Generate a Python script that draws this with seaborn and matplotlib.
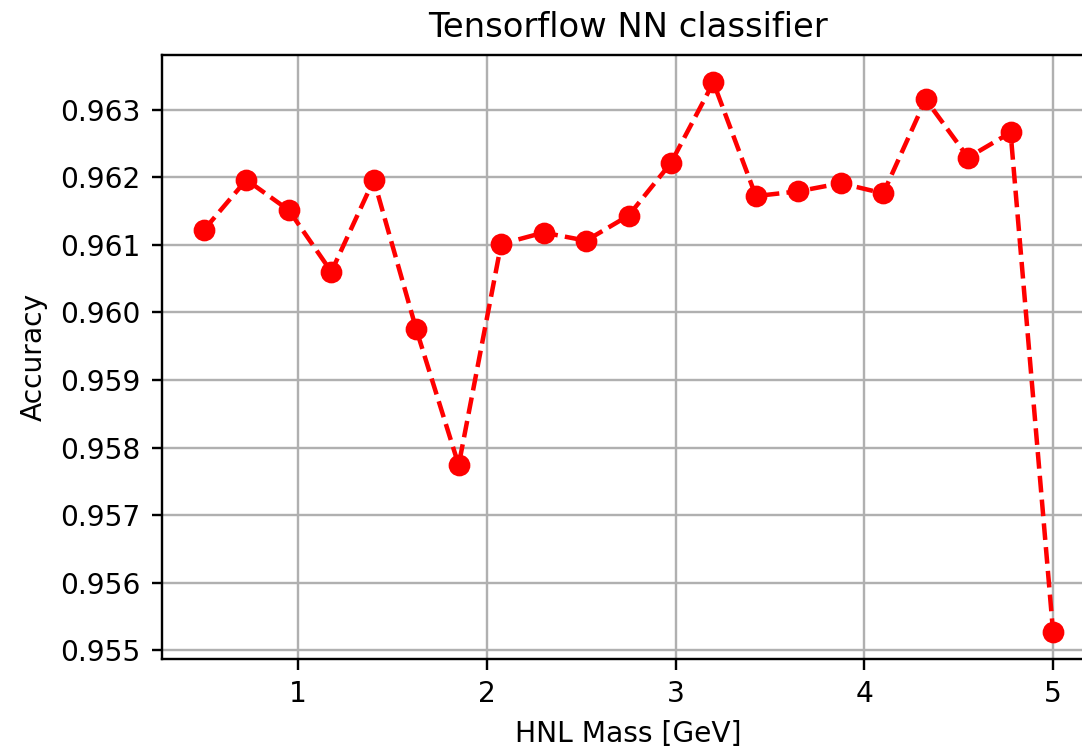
import matplotlib
matplotlib.use("Agg")
import matplotlib.pyplot as plt
import seaborn as sns
import pandas as pd

# HNL mass points (GeV) and classifier accuracy at each
mass = [0.5, 0.725, 0.95, 1.175, 1.4, 1.625, 1.85, 2.075, 2.3, 2.525, 2.75,
        2.975, 3.2, 3.425, 3.65, 3.875, 4.1, 4.325, 4.55, 4.775, 5.0]
accuracy = [0.96122, 0.96196, 0.96151, 0.96060, 0.96196, 0.95975, 0.95774,
            0.96101, 0.96118, 0.96106, 0.96143, 0.96221, 0.96340, 0.96172,
            0.96179, 0.96191, 0.96176, 0.96315, 0.96229, 0.96266, 0.95528]

df = pd.DataFrame({"mass": mass, "accuracy": accuracy})

plt.rcParams.update(plt.rcParamsDefault)
plt.rcParams["font.family"] = ["DejaVu Sans"]
plt.rcParams["font.size"] = 9.4

dpi = 216
fig = plt.figure(figsize=(1082 / dpi, 749 / dpi), dpi=dpi)
W, H = 1082, 749
ax = fig.add_axes([161.5 / W, (H - 659) / H, 934 / W, 604 / H])

sns.lineplot(data=df, x="mass", y="accuracy", ax=ax, color="red",
             linestyle="--", marker="o", markersize=6.5,
             markeredgecolor="red", linewidth=1.5)

ax.set_title("Tensorflow NN classifier")
ax.set_xlabel("HNL Mass [GeV]")
ax.set_ylabel("Accuracy")
ax.grid(True)
ax.set_xticks([1, 2, 3, 4, 5])
ax.set_yticks([0.955, 0.956, 0.957, 0.958, 0.959, 0.960, 0.961, 0.962, 0.963])
ax.set_yticklabels(["0.955", "0.956", "0.957", "0.958", "0.959", "0.960",
                    "0.961", "0.962", "0.963"])

fig.savefig("out.png", dpi=dpi)
